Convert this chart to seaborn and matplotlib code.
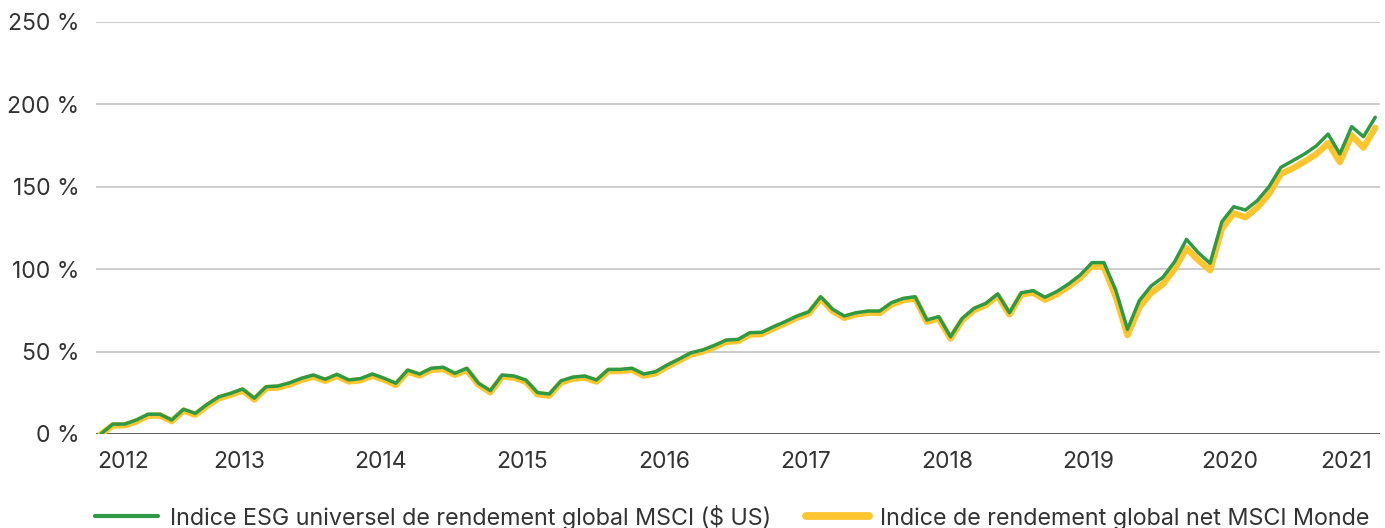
import pandas as pd
import numpy as np
import seaborn as sns
import matplotlib.pyplot as plt

# monthly cumulative returns (%), Jan 2012 - Jan 2021
esg = [0, 6, 6, 8.5, 12, 12, 8.5, 15, 12.5, 18, 22.6, 24.7,
       27.3, 21.7, 28.7, 29.1, 31.1, 33.8, 35.8, 33.2, 36.2, 32.8, 33.6, 36.4,
       33.8, 30.8, 38.8, 36.4, 39.9, 40.5, 36.8, 39.9, 30.8, 26.3, 35.8, 35.2,
       32.8, 25.1, 24.3, 32.3, 34.5, 35.2, 32.8, 39.2, 39.2, 39.9, 36.4, 37.8,
       41.9, 45.5, 49.3, 51.0, 53.8, 57.0, 57.4, 61.5, 61.7, 65.1, 68.2, 71.6,
       74.2, 83.3, 75.7, 71.6, 73.6, 74.6, 74.6, 79.7, 82.3, 83.3, 69.2, 71.2,
       59.0, 70.2, 76.3, 79.3, 85.0, 73.6, 85.7, 87.0, 83.0, 86.4, 91.0, 96.5,
       104.0, 104.0, 87.4, 63.5, 80.9, 89.8, 95.1, 104.6, 118.1, 110.0, 103.6, 128.8,
       137.9, 135.9, 141.6, 150.1, 161.8, 165.8, 169.9, 174.8, 182.0, 169.9, 186.5, 180.4,
       192.2]
monde = [0, 5.2, 5.3, 7.6, 11.1, 11.2, 7.8, 14.2, 11.7, 17.1, 21.7, 23.8,
         26.4, 20.9, 27.8, 28.2, 30.1, 32.8, 34.8, 32.3, 35.2, 31.9, 32.6, 35.4,
         32.9, 29.8, 37.8, 35.5, 38.9, 39.5, 35.9, 38.9, 29.9, 25.3, 34.8, 34.2,
         31.8, 24.1, 23.3, 31.3, 33.5, 34.2, 31.8, 38.2, 38.2, 38.9, 35.4, 36.8,
         40.9, 44.5, 48.3, 50.0, 52.8, 56.0, 56.4, 60.4, 60.6, 64.1, 67.2, 70.6,
         73.2, 82.2, 74.6, 70.5, 72.6, 73.6, 73.5, 78.6, 81.2, 82.2, 68.1, 70.1,
         57.9, 69.1, 75.2, 78.2, 83.9, 72.5, 84.6, 85.8, 81.5, 84.8, 89.4, 94.8,
         102.0, 101.2, 83.5, 60.0, 76.8, 85.6, 90.9, 100.2, 112.7, 105.5, 99.4, 124.6,
         133.9, 131.5, 137.4, 145.7, 157.8, 161.2, 165.3, 169.8, 176.5, 165.0, 181.2, 173.8,
         185.8]
years = ["2012", "2013", "2014", "2015", "2016", "2017", "2018", "2019", "2020", "2021"]
labels = ["Indice ESG universel de rendement global MSCI ($ US)",
          "Indice de rendement global net MSCI Monde"]
y_ticks = [0, 50, 100, 150, 200, 250]

df = pd.DataFrame({"month": np.arange(len(esg)), "esg": esg, "monde": monde})

GREEN = "#2e9a45"
YELLOW = "#fec52e"

sns.set_style("white")
plt.rcParams["font.family"] = ["Inter", "DejaVu Sans"]

fig = plt.figure(figsize=(13.85, 5.28), dpi=100)
ax = fig.add_axes([96 / 1385, 1 - 434 / 528, (1380 - 96) / 1385, (434 - 22) / 528])

sns.lineplot(data=df, x="month", y="monde", ax=ax, color=YELLOW, lw=4.6,
             solid_capstyle="round", solid_joinstyle="round", label=labels[1], zorder=3)
sns.lineplot(data=df, x="month", y="esg", ax=ax, color=GREEN, lw=2.5,
             solid_joinstyle="round", label=labels[0], zorder=4)

ax.set_ylim(0, 250)
ax.set_xlim(-0.42, len(esg) - 0.6)
ax.set_yticks(y_ticks)
ax.set_yticklabels([f"{v} %" for v in y_ticks])
for v in y_ticks[1:]:
    ax.axhline(v, color="#c4c4c4", lw=1.2, zorder=1)
ax.axhline(0, color="#4d4d4d", lw=2, zorder=2)

ax.set_xticks(np.arange(len(years)) * 12 - 0.3)
ax.set_xticklabels(years)
xt = ax.get_xticklabels()
xt[0].set_ha("left")
xt[-1].set_ha("right")
ax.tick_params(axis="both", length=0, labelsize=16.5, labelcolor="#333333")
ax.tick_params(axis="x", pad=12)
ax.tick_params(axis="y", pad=12)
ax.set_xlabel("")
ax.set_ylabel("")
sns.despine(ax=ax, left=True, bottom=True)

ax.get_legend().remove()
handles, _ = ax.get_legend_handles_labels()
leg = fig.legend(handles[::-1], labels, loc="center left",
                 bbox_to_anchor=(95 / 1385, 1 - 517 / 528), ncol=2, frameon=False,
                 fontsize=16.8, handlelength=2.7, handletextpad=0.5, columnspacing=1.5,
                 borderaxespad=0, borderpad=0)
for t in leg.get_texts():
    t.set_color("#333333")
leg.get_lines()[0].set_linewidth(3.0)
leg.get_lines()[1].set_linewidth(5.6)
leg.get_lines()[1].set_solid_capstyle("round")

fig.savefig("out.png", dpi=100)
